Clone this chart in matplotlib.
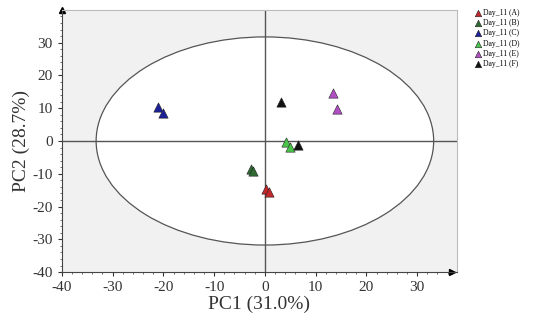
import numpy as np
import matplotlib.pyplot as plt
from matplotlib.patches import Ellipse
from matplotlib.ticker import MultipleLocator

plt.rcParams['font.family'] = ['Liberation Serif', 'DejaVu Serif']
plt.rcParams['axes.unicode_minus'] = False

groups = ['Day_11 (A)', 'Day_11 (B)', 'Day_11 (C)', 'Day_11 (D)', 'Day_11 (E)', 'Day_11 (F)']
colors = ['#c0262a', '#2f6a32', '#1c1f96', '#4ac44a', '#b24ec4', '#111111']
pc1 = [[0.3, 0.8], [-2.7, -2.3], [-21.0, -20.1], [4.2, 4.9], [13.4, 14.2], [3.2, 6.6]]
pc2 = [[-14.6, -15.6], [-8.6, -9.3], [10.3, 8.5], [-0.2, -1.9], [14.6, 9.8], [11.9, -1.1]]

ell_w, ell_h = 66.5, 63.5

fig = plt.figure(figsize=(5.38, 3.29), dpi=100)
ax = fig.add_axes([0.115, 0.173, 0.734, 0.797])
ax.set_facecolor('#f1f1f1')

ax.add_patch(Ellipse((0, 0), ell_w, ell_h, facecolor='white', edgecolor='#555555', lw=0.9, zorder=1))
ax.axhline(0, color='#555555', lw=1.0, zorder=2)
ax.axvline(0, color='#555555', lw=1.0, zorder=2)

for g, c, xs, ys in zip(groups, colors, pc1, pc2):
    ax.scatter(xs, ys, marker='^', s=45, color=c, edgecolors='#222222', linewidths=0.4, label=g, zorder=3)

ax.set_xlim(-40, 37.8)
ax.set_ylim(-40, 40)
ax.xaxis.set_minor_locator(MultipleLocator(2))
ax.yaxis.set_minor_locator(MultipleLocator(2))
ax.set_xticks(np.arange(-40, 31, 10))
ax.set_yticks(np.arange(-40, 31, 10))
ax.tick_params(labelsize=11, length=3, color='#333333', labelcolor='#333333')
ax.tick_params(which='minor', length=1.5, color='#555555')

for s in ['top', 'right']:
    ax.spines[s].set_color('#bbbbbb')
for s in ['left', 'bottom']:
    ax.spines[s].set_color('#444444')

# arrow heads at the axis ends
ax.plot([0], [1], marker='^', ms=4, color='black', transform=ax.transAxes, clip_on=False)
ax.plot([0.987], [0], marker='>', ms=4, color='black', transform=ax.transAxes, clip_on=False)

ax.set_xlabel('PC1 (31.0%)', fontsize=14, labelpad=1, color='#333333')
ax.set_ylabel('PC2 (28.7%)', fontsize=14, labelpad=2, color='#333333')

fig.legend(loc='upper left', bbox_to_anchor=(0.875, 0.985), frameon=False, fontsize=5.5,
           handletextpad=0.1, labelspacing=0.3, borderpad=0, handlelength=1.0, markerscale=0.7)

fig.savefig('out.png', dpi=100)
